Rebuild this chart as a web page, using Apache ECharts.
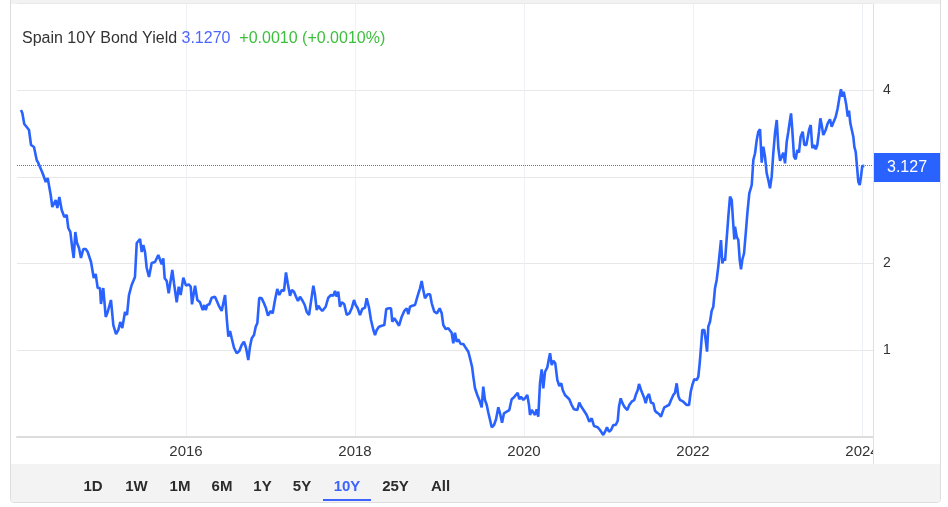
<!DOCTYPE html>
<html>
<head>
<meta charset="utf-8">
<script src="https://cdn.jsdelivr.net/npm/echarts@6/dist/echarts.min.js"></script>
<style>
html,body{margin:0;padding:0;background:#fff;width:948px;height:507px;overflow:hidden;}
#frame{position:absolute;left:10px;top:-6px;width:931px;height:509px;border:1px solid #dddddd;border-radius:4px;background:#fff;box-sizing:border-box;}
#band{position:absolute;left:11px;top:0;width:929px;height:4px;background:#f2f2f2;}
#toolbar{position:absolute;left:11px;top:464px;width:929px;height:38px;background:#f3f3f3;border-radius:0 0 3px 3px;}
#chart{position:absolute;left:0;top:0;width:948px;height:507px;}
</style>
</head>
<body>
<div id="frame"></div>
<div id="band"></div>
<div id="toolbar"></div>
<div id="chart"></div>
<script>
// ---- data ----
const seriesName = 'Spain 10Y Bond Yield';
const lastValue = 3.127;
const changeText = '+0.0010 (+0.0010%)';
const yTickLabels = [1, 2, 4];
const rangeButtons = ['1D', '1W', '1M', '6M', '1Y', '5Y', '10Y', '25Y', 'All'];
const activeRange = '10Y';

// dates as decimal years
const years = [
2014.047,2014.063,2014.086,2014.115,2014.142,2014.166,2014.201,2014.233,2014.252,2014.272,
2014.292,2014.311,2014.340,2014.363,2014.379,2014.399,2014.418,2014.441,2014.458,2014.477,
2014.501,2014.529,2014.560,2014.588,2014.607,2014.631,2014.654,2014.671,2014.690,2014.710,
2014.734,2014.757,2014.785,2014.813,2014.837,2014.852,2014.876,2014.908,2014.931,2014.955,
2014.982,2014.994,2015.021,2015.050,2015.073,2015.112,2015.140,2015.172,2015.199,2015.222,
2015.246,2015.278,2015.302,2015.325,2015.357,2015.396,2015.417,2015.456,2015.476,2015.495,
2015.515,2015.535,2015.562,2015.594,2015.633,2015.672,
2015.692,2015.712,2015.731,2015.748,2015.772,2015.795,2015.811,2015.838,2015.858,2015.890,
2015.914,2015.937,2015.968,2016.000,2016.032,2016.056,2016.071,2016.107,2016.134,2016.166,
2016.198,2016.217,2016.233,2016.252,2016.276,2016.304,2016.343,2016.363,2016.394,2016.422,
2016.462,2016.482,2016.501,2016.521,2016.541,2016.568,2016.600,2016.631,2016.659,2016.686,
2016.710,2016.737,2016.757,2016.778,2016.805,2016.825,2016.844,2016.867,2016.896,2016.923,
2016.947,2016.970,2017.002,2017.026,2017.053,2017.080,2017.104,2017.133,2017.160,2017.183,
2017.204,2017.231,2017.254,2017.278,2017.302,2017.325,2017.349,2017.381,2017.405,
2017.428,2017.456,2017.479,2017.507,2017.527,2017.547,2017.566,2017.586,2017.613,2017.653,
2017.684,2017.716,2017.743,2017.763,2017.783,2017.802,2017.822,2017.843,2017.873,2017.902,
2017.933,2017.961,2017.988,2018.008,2018.032,2018.059,2018.086,2018.118,2018.138,2018.166,
2018.189,2018.217,2018.237,2018.257,2018.284,2018.316,2018.347,2018.370,2018.402,2018.426,
2018.441,2018.465,2018.493,2018.521,2018.553,2018.583,2018.612,2018.631,2018.651,2018.678,
2018.710,2018.742,2018.769,2018.789,2018.808,2018.828,2018.860,2018.888,2018.908,2018.938,
2018.970,2019.002,2019.026,2019.045,2019.073,2019.104,
2019.124,2019.144,2019.163,2019.183,2019.203,2019.222,2019.251,2019.282,2019.314,2019.341,
2019.361,2019.385,2019.400,2019.420,2019.447,2019.471,2019.499,2019.518,2019.538,2019.559,
2019.578,2019.598,2019.618,2019.645,2019.669,2019.696,2019.716,2019.740,2019.763,2019.795,
2019.826,2019.854,2019.882,2019.905,2019.925,2019.944,2019.964,2019.992,2020.020,2020.039,
2020.059,2020.071,2020.091,2020.110,2020.130,2020.150,2020.169,2020.189,2020.209,2020.228,
2020.249,2020.276,2020.292,2020.308,2020.328,2020.347,2020.370,2020.394,2020.418,2020.441,
2020.458,2020.485,2020.512,2020.536,2020.564,2020.592,2020.615,2020.631,2020.654,2020.683,
2020.710,2020.742,2020.773,2020.801,2020.828,
2020.840,2020.872,2020.899,2020.919,2020.938,2020.959,2020.982,2021.006,2021.030,2021.057,
2021.085,2021.109,2021.124,2021.144,2021.163,2021.187,2021.207,2021.222,2021.246,2021.274,
2021.305,2021.322,2021.346,2021.361,2021.385,2021.400,2021.424,2021.440,2021.459,2021.479,
2021.503,2021.530,2021.550,2021.574,2021.598,2021.621,2021.641,2021.660,2021.689,2021.716,
2021.740,2021.767,2021.787,2021.807,2021.826,2021.846,2021.866,2021.885,2021.905,2021.925,
2021.953,2021.973,2021.992,2022.015,2022.044,2022.063,2022.079,2022.095,2022.110,2022.134,
2022.150,2022.166,2022.181,2022.201,2022.221,2022.240,2022.260,2022.280,2022.299,2022.320,
2022.331,2022.347,2022.363,2022.379,2022.399,2022.418,2022.438,2022.458,2022.473,2022.489,
2022.497,2022.517,2022.536,2022.553,2022.568,2022.583,2022.604,2022.624,2022.643,2022.666,
2022.695,2022.714,2022.734,2022.754,2022.773,2022.793,2022.813,2022.832,2022.852,2022.872,
2022.891,2022.911,2022.931,2022.950,2022.970,2022.991,2023.010,2023.030,2023.050,2023.069,
2023.089,2023.109,2023.128,2023.148,2023.160,2023.175,2023.195,2023.215,2023.234,2023.254,
2023.274,2023.298,2023.317,2023.341,2023.357,2023.373,2023.393,2023.412,2023.432,2023.452,
2023.471,2023.491,2023.507,2023.523,2023.542,2023.570,2023.594,2023.621,2023.641,2023.660,
2023.689,2023.712,2023.731,2023.751,2023.767,2023.783,2023.799,2023.814,2023.831,2023.846,
2023.862,2023.878,2023.897,2023.909,2023.925,2023.941,2023.956,2023.973,2023.988,2024.003,
2024.027
];

// yield values (%)
const yields = [
3.772,3.737,3.610,3.575,3.541,3.368,3.345,3.194,3.160,3.171,
3.068,3.021,2.941,2.987,2.987,2.791,2.652,2.675,2.733,2.641,
2.767,2.617,2.537,2.560,2.410,2.364,2.179,2.063,2.364,2.237,
2.179,2.063,2.167,2.167,2.133,2.156,2.017,1.833,1.879,1.717,
1.717,1.533,1.717,1.383,1.440,1.579,1.290,1.186,1.233,1.325,
1.256,1.440,1.406,1.636,1.752,1.844,2.237,2.283,2.133,2.213,
2.133,1.948,1.844,2.006,2.017,2.098,
2.118,1.991,2.060,1.829,1.798,1.656,1.675,1.925,1.772,1.552,
1.732,1.636,1.836,1.744,1.760,1.732,1.529,1.744,1.579,1.552,
1.463,1.521,1.463,1.521,1.529,1.605,1.617,1.605,1.501,1.452,
1.636,1.368,1.155,1.221,1.137,1.028,0.964,0.990,1.059,1.098,
1.028,0.886,1.040,1.137,1.175,1.271,1.310,1.605,1.598,1.541,
1.483,1.398,1.452,1.425,1.579,1.706,1.636,1.694,1.683,1.898,
1.772,1.628,1.694,1.675,1.617,1.567,1.617,1.567,1.521,
1.444,1.406,1.559,1.744,1.636,1.463,1.513,1.483,1.452,1.501,
1.605,1.636,1.628,1.683,1.617,1.675,1.501,1.552,1.529,1.406,
1.425,1.483,1.579,1.521,1.483,1.406,1.475,1.490,1.598,1.490,
1.348,1.233,1.175,1.233,1.271,1.282,1.290,1.475,1.483,1.483,
1.328,1.368,1.328,1.282,1.386,1.452,1.483,1.414,1.501,1.513,
1.521,1.628,1.714,1.798,1.694,1.598,1.645,1.645,1.541,1.444,
1.425,1.483,1.425,1.290,1.244,1.252,
1.233,1.201,1.079,1.201,1.098,1.125,1.071,1.071,1.021,0.982,
0.906,0.809,0.694,0.560,0.482,0.425,0.340,0.578,0.425,0.367,
0.278,0.290,0.110,0.136,0.202,0.340,0.271,0.163,0.271,0.290,
0.309,0.433,0.456,0.444,0.509,0.433,0.463,0.425,0.456,0.482,
0.367,0.252,0.309,0.301,0.252,0.317,0.232,0.617,0.779,0.560,
0.751,0.802,0.886,0.964,0.829,0.878,0.848,0.656,0.586,0.617,
0.540,0.482,0.456,0.433,0.367,0.317,0.340,0.309,0.394,0.340,
0.301,0.252,0.174,0.213,0.125,
0.125,0.110,0.078,0.098,0.021,0.059,0.110,0.059,0.078,0.136,
0.136,0.186,0.347,0.444,0.394,0.347,0.355,0.309,0.367,0.405,
0.425,0.482,0.540,0.609,0.540,0.502,0.444,0.387,0.463,0.494,
0.394,0.387,0.301,0.278,0.263,0.232,0.290,0.340,0.355,0.367,
0.425,0.482,0.509,0.617,0.471,0.425,0.444,0.405,0.425,0.367,
0.367,0.520,0.598,0.664,0.656,0.694,0.848,1.040,1.233,1.233,
1.117,0.982,1.271,1.328,1.455,1.501,1.714,1.810,1.963,1.983,
2.271,2.002,2.060,2.032,2.040,2.540,2.771,2.733,2.502,2.279,
2.425,2.309,2.271,2.040,1.933,2.040,2.118,2.349,2.579,2.810,
2.906,3.194,3.272,3.425,3.521,3.549,3.163,3.348,3.233,3.041,
2.964,2.868,3.002,3.272,3.503,3.656,3.330,3.186,3.175,3.279,
3.156,3.406,3.521,3.656,3.733,3.541,3.233,3.203,3.310,3.279,
3.463,3.521,3.368,3.368,3.348,3.541,3.598,3.330,3.368,3.318,
3.368,3.521,3.676,3.598,3.483,3.541,3.618,3.664,3.579,3.572,
3.694,3.791,3.906,4.010,3.925,3.983,3.906,3.829,3.694,3.763,
3.618,3.637,3.463,3.348,3.290,3.117,2.944,2.906,3.002,3.125,
3.127
];

// ---- chart ----
const BLUE = '#2962ff';
const FONT = 'Arial, "Liberation Sans", sans-serif';
const seriesData = years.map((y, i) => [y, yields[i]]);

const buttonCenters = [93, 136.5, 180, 222, 262.5, 302, 347, 395.5, 440.5];
const buttonGraphics = rangeButtons.map((b, i) => ({
  type: 'text',
  x: buttonCenters[i],
  y: 487,
  z: 100,
  silent: true,
  style: {
    text: b,
    fill: b === activeRange ? '#3d63ff' : '#2b2b2b',
    fontSize: 15,
    fontWeight: 'bold',
    fontFamily: FONT,
    align: 'center',
    verticalAlign: 'middle'
  }
}));
const activeIdx = rangeButtons.indexOf(activeRange);

const chart = echarts.init(document.getElementById('chart'), null, {renderer: 'canvas'});
chart.setOption({
  animation: false,
  backgroundColor: 'transparent',
  title: {
    left: 17,
    top: 26,
    text: '{n|' + seriesName + '} {p|' + lastValue.toFixed(4) + '}  {c|' + changeText + '}',
    textStyle: {
      fontFamily: FONT,
      fontSize: 16,
      fontWeight: 'normal',
      rich: {
        n: {fontSize: 16, color: '#333333', fontFamily: FONT},
        p: {fontSize: 16, color: '#4d66ff', fontFamily: FONT},
        c: {fontSize: 16, color: '#3cbf3c', fontFamily: FONT}
      }
    }
  },
  grid: {left: 17, right: 75, top: 3.55, bottom: 70.2, containLabel: false},
  xAxis: {
    type: 'value',
    min: 2014,
    max: 2024.13,
    interval: 2,
    axisLine: {show: true, lineStyle: {color: '#dcdcdc', width: 2}},
    axisTick: {show: false},
    axisLabel: {
      color: '#333333',
      fontSize: 15,
      fontFamily: FONT,
      margin: 8,
      showMinLabel: false,
      showMaxLabel: false,
      formatter: v => (Math.abs(v - Math.round(v)) < 1e-6 ? String(Math.round(v)) : '')
    },
    splitLine: {show: true, showMinLine: false, showMaxLine: false, lineStyle: {color: '#edf1f5', width: 1}}
  },
  yAxis: {
    type: 'value',
    position: 'right',
    min: 0,
    max: 5,
    interval: 1,
    axisLine: {show: false},
    axisTick: {show: false},
    axisLabel: {
      color: '#333333',
      fontSize: 14,
      fontFamily: FONT,
      margin: 10,
      formatter: v => (yTickLabels.indexOf(v) >= 0 ? String(v) : '')
    },
    splitLine: {show: true, lineStyle: {color: '#e8e8e8', width: 1}}
  },
  series: [{
    type: 'line',
    name: seriesName,
    data: seriesData,
    showSymbol: false,
    symbol: 'none',
    lineStyle: {color: BLUE, width: 2.6},
    itemStyle: {color: BLUE},
    emphasis: {disabled: true},
    markLine: {
      silent: true,
      symbol: 'none',
      animation: false,
      lineStyle: {type: [1, 1], color: '#4a74ff', width: 1, opacity: 1},
      emphasis: {disabled: true},
      label: {
        show: true,
        position: 'end',
        distance: 1,
        offset: [0, 2],
        formatter: () => lastValue.toFixed(3),
        color: '#ffffff',
        backgroundColor: BLUE,
        padding: [7, 13, 6, 13],
        fontSize: 16,
        fontFamily: FONT
      },
      data: [{yAxis: lastValue}]
    }
  }],
  graphic: {
    elements: [
      {type: 'rect', z: 100, silent: true, shape: {x: 874, y: 440, width: 16, height: 22}, style: {fill: '#ffffff'}},
      {type: 'line', z: 100, silent: true, shape: {x1: 873.5, y1: 4, x2: 873.5, y2: 464}, style: {stroke: '#e0e0e0', lineWidth: 1}},
      {type: 'rect', z: 100, silent: true, shape: {x: buttonCenters[activeIdx] - 24, y: 499, width: 48, height: 2}, style: {fill: '#3d63ff'}}
    ].concat(buttonGraphics)
  }
});
</script>
</body>
</html>
